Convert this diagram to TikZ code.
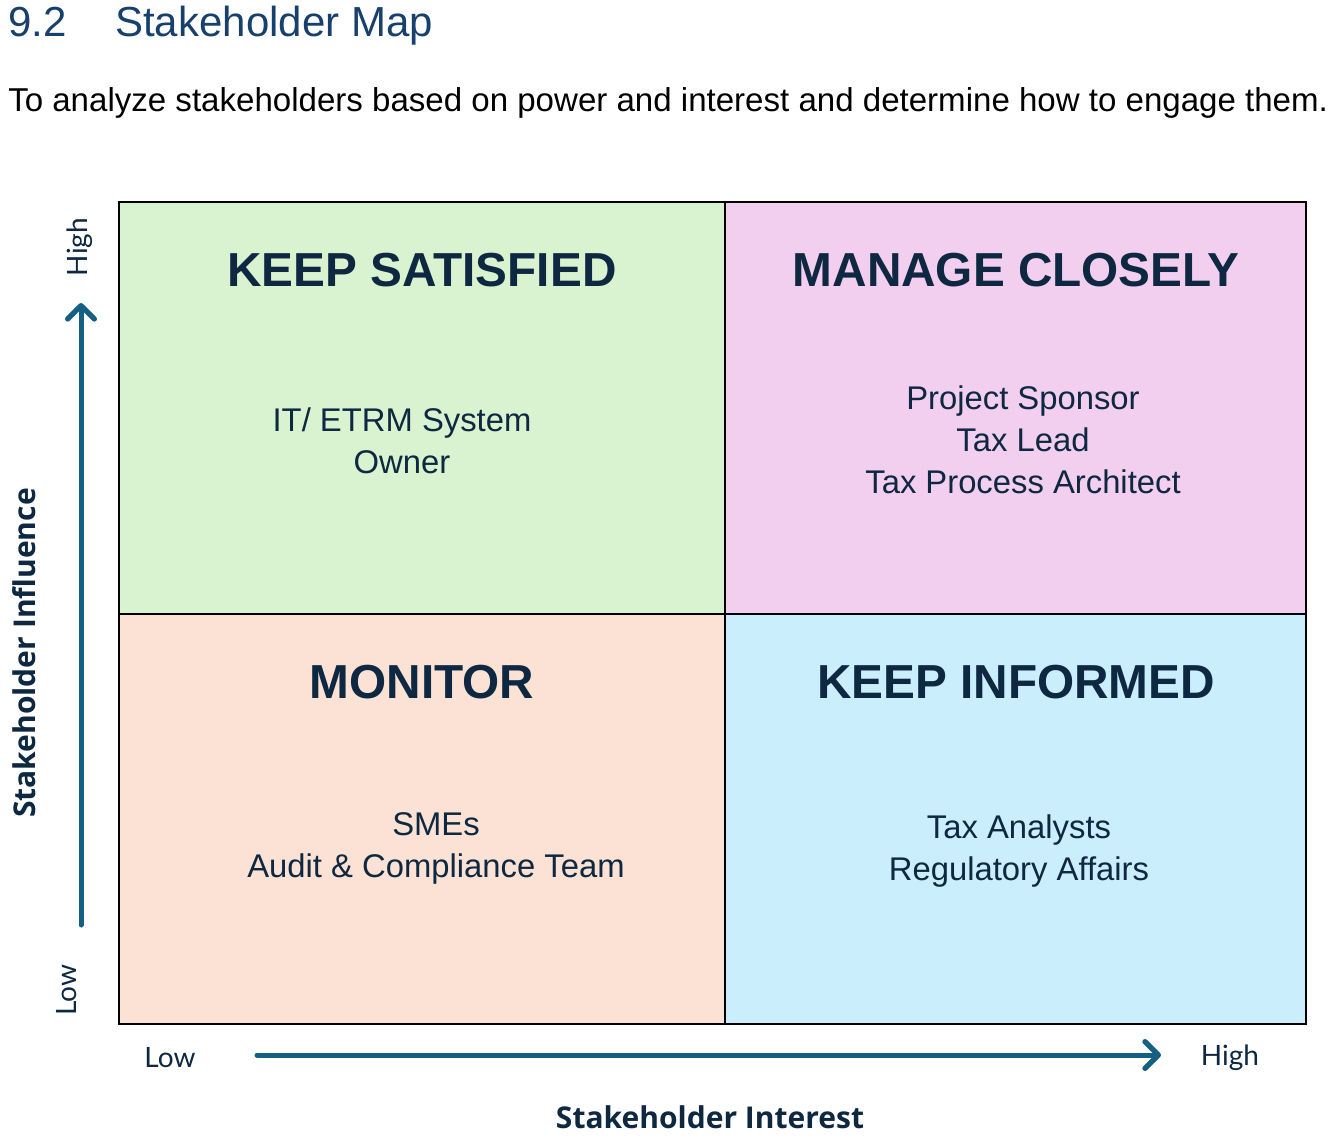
\documentclass[tikz,border=0pt]{standalone}
\usepackage{fontspec}
\setmainfont{Liberation Sans}
\newfontfamily\axfont{Lato}
\newfontfamily\axbold{Open Sans}
\usetikzlibrary{arrows.meta}
\definecolor{titleblue}{HTML}{17406D}
\definecolor{navy}{HTML}{0E2841}
\definecolor{qgreen}{HTML}{D9F2D0}
\definecolor{qpink}{HTML}{F2CEEF}
\definecolor{qpeach}{HTML}{FBE2D5}
\definecolor{qblue}{HTML}{CAEEFB}
\definecolor{arrowblue}{HTML}{156082}
\tikzset{
  quad/.style={draw=black, line width=1.5pt},
  heading/.style={font=\fontsize{35.8}{40}\selectfont\bfseries, text=navy, inner sep=0pt, anchor=base},
  body/.style={font=\fontsize{24.6}{31.5}\selectfont, text=navy, align=center, inner sep=0pt},
  axlab/.style={font=\axfont\fontsize{21}{24}\selectfont, text=navy, inner sep=0pt},
  axtitle/.style={font=\axbold\fontsize{22.5}{26}\selectfont\bfseries, text=navy, inner sep=0pt},
  axarrow/.style={draw=arrowblue, line width=3.75pt, line cap=round, -{Straight Barb[length=10pt, width=20pt, line width=4pt, round]}}
}
\begin{document}
\begin{tikzpicture}[x=0.75pt, y=-0.75pt]
\useasboundingbox (0,0) rectangle (1338,1138);
% title and subtitle
\node[font=\fontsize{31.5}{36}\selectfont, text=titleblue, anchor=base west, inner sep=0pt] (num) at (8,37) {9.2};
\node[font=\fontsize{31.5}{36}\selectfont, text=titleblue, anchor=base west, inner sep=0pt] (title) at (115,37) {Stakeholder Map};
\node[font=\fontsize{24.8}{30}\selectfont, text=black, anchor=base west, inner sep=0pt] (sub) at (8,112) {To analyze stakeholders based on power and interest and determine how to engage them.};
% quadrants
\fill[qgreen] (119,202) rectangle (725,614);
\fill[qpink] (725,202) rectangle (1306,614);
\fill[qpeach] (119,614) rectangle (725,1024);
\fill[qblue] (725,614) rectangle (1306,1024);
\draw[quad] (119,202) rectangle (1306,1024);
\draw[quad] (725,202) -- (725,1024);
\draw[quad] (119,614) -- (1306,614);
% headings
\node[heading] (ks) at (422,286) {KEEP SATISFIED};
\node[heading] (mc) at (1016,286) {MANAGE CLOSELY};
\node[heading] (mo) at (422,698) {MONITOR};
\node[heading] (ki) at (1016,698) {KEEP INFORMED};
% bodies
\node[body] (ksb) at (402,441) {IT/ ETRM System\\Owner};
\node[body] (mcb) at (1023,440) {Project Sponsor\\Tax Lead\\Tax Process Architect};
\node[body] (mob) at (436,848) {SMEs\\Audit \& Compliance Team};
\node[body] (kib) at (1019,851) {Tax Analysts\\Regulatory Affairs};
% axes
\coordinate (vs) at (81,925);
\coordinate (ve) at (81,303);
\draw[axarrow] (vs) -- (ve);
\coordinate (hs) at (257,1055);
\coordinate (he) at (1161,1055);
\draw[axarrow] (hs) -- (he);
\node[axlab, rotate=90] (vhigh) at (80,247) {High};
\node[axlab, rotate=90] (vlow) at (67,990) {Low};
\node[axlab] (hlow) at (170,1058) {Low};
\node[axlab] (hhigh) at (1230,1058) {High};
\node[axtitle, rotate=90] (yt) at (24,653) {Stakeholder Influence};
\node[axtitle] (xt) at (710,1117) {Stakeholder Interest};
\end{tikzpicture}
\end{document}
